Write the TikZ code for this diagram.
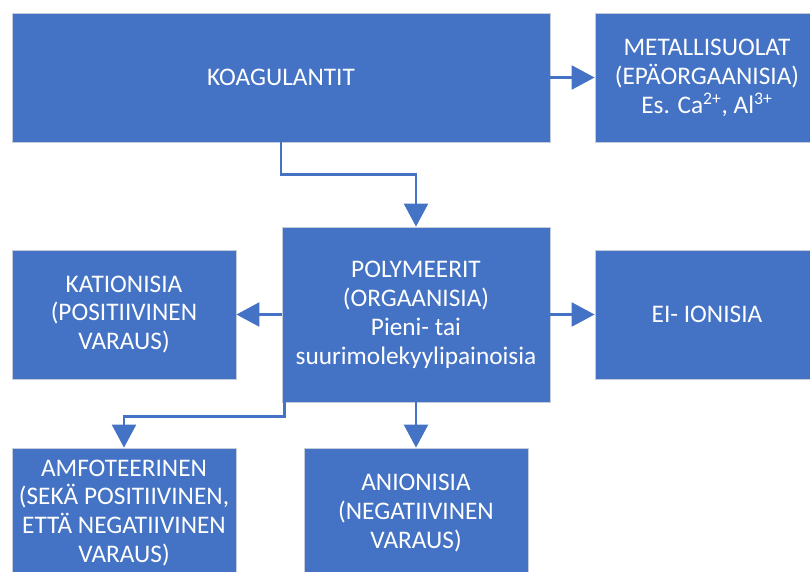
\documentclass[tikz,border=0pt]{standalone}
\usepackage{fontspec}
\setmainfont{Carlito}
\usepackage{xcolor}
\definecolor{office}{RGB}{68,114,196}
\definecolor{rim}{RGB}{196,204,218}
\usepackage{tikz}
\usetikzlibrary{arrows.meta,positioning}

\begin{document}
\begin{tikzpicture}[
  box/.style={rectangle,fill=office,draw=rim,line width=0.6pt,
              text=white,align=center,inner sep=0pt,
              minimum width=5.6cm,minimum height=3.225cm,
              font=\fontsize{18}{20.6}\selectfont},
  link/.style={office,line width=1.8pt,
               -{Triangle[length=0.575cm,width=0.6cm]}},
]
  \useasboundingbox (0,0) rectangle (20.25,-14.275);
  \clip (0,0) rectangle (20.25,-14.275);

  \node[box,minimum width=13.45cm](KOAG) at (7.025,-1.9375) {KOAGULANTIT};

  \node[box](METAL) at (17.675,-1.9375) {%
    METALLISUOLAT\\
    (EPÄORGAANISIA)\\
    Es. Ca\textsuperscript{2+}, Al\textsuperscript{3+}};

  \node[box,minimum width=6.7cm,minimum height=4.375cm](POLY)
    at (10.4,-7.8625) {%
    POLYMEERIT\\
    (ORGAANISIA)\\
    Pieni- tai\\
    suurimolekyylipainoisia};

  \node[box](KATI) at (3.1,-7.8625) {%
    KATIONISIA\\
    (POSITIIVINEN\\
    VARAUS)};

  \node[box](EI) at (17.675,-7.8625) {EI- IONISIA};

  \node[box,minimum height=3.25cm](AMFO) at (3.1,-12.825) {%
    AMFOTEERINEN\\
    (SEKÄ POSITIIVINEN,\\
    ETTÄ NEGATIIVINEN\\
    VARAUS)};

  \node[box,minimum height=3.25cm](ANIO) at (10.4,-12.825) {%
    ANIONISIA\\
    (NEGATIIVINEN\\
    VARAUS)};

  \foreach \a/\b in {KOAG.east/METAL.west,POLY.west/KATI.east,
                     POLY.east/EI.west,POLY.south/ANIO.north}{%
    \draw[link] (\a) -- (\b);}

  \draw[link] (KOAG.south) -- ++(0,-0.8) -| (POLY.north);
  \draw[link] ([xshift=0.075cm]POLY.south west) -- ++(0,-0.35)
    -| (AMFO.north);
\end{tikzpicture}
\end{document}
